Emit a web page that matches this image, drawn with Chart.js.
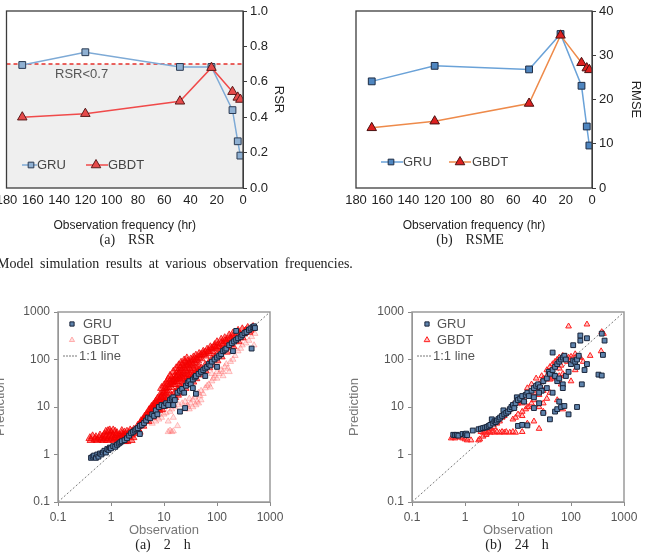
<!DOCTYPE html>
<html lang="en">
<head>
<meta charset="UTF-8" />
<title>Model simulation results at various observation frequencies</title>
<style>
    body {
        margin: 0;
        padding: 0;
        background: #fff;
        width: 651px;
        height: 556px;
        overflow: hidden;
        position: relative;
        font-family: "Liberation Sans", Arial, sans-serif;
    }
    .box { position: absolute; }
    .cap {
        position: absolute;
        font-family: "Liberation Serif", serif;
        font-size: 14px;
        color: #222;
        white-space: nowrap;
        transform: translateX(-50%);
        word-spacing: 3px;
    }
    .note {
        position: absolute;
        left: -3px;
        top: 256px;
        font-family: "Liberation Serif", serif;
        font-size: 14px;
        color: #222;
        word-spacing: 3px;
        white-space: nowrap;
    }
</style>
<script src="https://cdn.jsdelivr.net/npm/chart.js"></script>
</head>
<body>
<div class="box" style="left:0;top:0;width:290px;height:237px"><canvas id="rsr"></canvas></div>
<div class="box" style="left:340px;top:0;width:307px;height:237px"><canvas id="rmse"></canvas></div>
<div class="cap" style="left:127px;top:232px">(a)&nbsp; RSR</div>
<div class="cap" style="left:470px;top:232px">(b)&nbsp; RSME</div>
<div class="note">Model simulation results at various observation frequencies.</div>
<div class="box" style="left:-12px;top:290px;width:300px;height:250px"><canvas id="h2"></canvas></div>
<div class="box" style="left:342px;top:290px;width:300px;height:250px"><canvas id="h24"></canvas></div>
<div class="cap" style="left:163px;top:537px">(a)&nbsp; 2&nbsp; h</div>
<div class="cap" style="left:517px;top:537px">(b)&nbsp; 24&nbsp; h</div>
<script>
// observation frequency (hr) and metrics
const freq = [168, 120, 48, 24, 8, 4, 2];
const rsrGRU = [0.695, 0.767, 0.684, 0.684, 0.44, 0.264, 0.183];
const rsrGBDT = [0.40, 0.42, 0.49, 0.68, 0.544, 0.512, 0.50];
const rmseGRU = [24.1, 27.6, 26.8, 34.8, 23.1, 13.9, 9.6];
const rmseGBDT = [13.6, 15.1, 19.1, 34.5, 28.3, 27.1, 26.7];
const limitX = [180, 0];
const rsrLimit = 0.7;

// scatter: [observation, prediction]
const gru2h = [[0.42,0.85],[0.45,0.9],[0.48,0.95],[0.52,0.85],[0.55,1.0],[0.58,0.9],[0.62,1.05],[0.66,1.0],[0.7,1.1],[0.75,1.2],[0.8,1.1],[0.85,1.3],[0.9,1.25],[0.95,1.4],[1.0,1.35],[1.1,1.5],[1.2,1.45],[1.3,1.6],[1.4,1.7],[1.5,1.8],[1.6,1.9],[1.8,2.0],[2.0,2.2],[2.2,2.5],[2.4,2.8],[2.6,3.0],[2.8,3.2],[3.0,3.4],[3.2,3.6],[3.5,2.7],[3.5,4.0],[3.8,4.2],[4.2,4.6],[4.6,5.2],[5,6.0],[5.5,5.8],[6,7],[6.5,6.5],[7,8.5],[7.5,7],[8,10],[9,11],[10,10.5],[11,12],[12,11],[13,14],[14,15],[15,16],[16,14],[18,20],[20,22],[22,24],[24,20],[26,28],[28,32],[30,35],[32,30],[35,38],[38,42],[40,45],[45,50],[50,55],[55,60],[60,65],[65,70],[70,80],[75,75],[80,90],[90,100],[100,110],[110,120],[120,130],[130,150],[140,160],[150,170],[170,200],[190,220],[210,240],[230,260],[250,280],[280,300],[300,330],[330,360],[360,380],[400,420],[430,450],[470,480],[500,500],[520,460],[230,400],[450,170],[40,19],[20,8],[25,9.5],[35,25],[15,11],[60,45],[100,70],[200,150]];
const gbdt2hCore = [[0.4,2.2],[0.42,2.0],[0.45,2.4],[0.5,2.1],[0.52,2.3],[0.55,2.0],[0.6,2.2],[0.62,2.5],[0.66,2.1],[0.7,2.3],[0.72,2.0],[0.75,2.6],[0.78,2.2],[0.8,3.0],[0.82,2.4],[0.88,3.1],[0.95,3.2],[1.0,2.9],[1.1,3.2],[1.2,3.0],
    [0.85,2.0],[0.9,2.2],[0.95,2.4],[1.0,2.1],[1.05,2.3],[1.1,2.5],[1.15,2.0],[1.2,2.2],[1.25,2.6],[1.3,2.3],[1.4,2.1],[1.45,2.5],[1.5,2.3],[1.6,2.7],[1.65,2.2],[1.7,2.5],[1.8,2.9],[1.85,2.3],[1.9,2.6],[2.0,3.0],[2.1,2.4],[2.2,2.8],[2.3,3.2],[2.4,2.6],[2.5,3.0],[2.6,2.3],[2.7,3.3],[2.8,2.8],[3.0,3.1],[3.2,3.5],[3.4,3.0],[1.6,3.1],[1.3,2.8],[2.0,1.9],[2.4,2.0],[1.8,1.9],
    [3.5,4.2],[3.7,5.0],[3.9,4.6],[4.1,5.5],[4.3,6.2],[4.5,5.2],[4.7,7.0],[5.0,6.2],[5.2,8.5],[5.5,7.5],[5.8,10],[6.0,8.5],[6.3,11],[6.6,9.5],[7.0,13],[7.3,10.5],[7.6,15],[8.0,12],[8.5,18],[9.0,14],[9.5,20],[10,16],[10.5,25],[11,19],[11.5,30],[12,22],[13,35],[13.5,26],[14,40],[15,30],[16,45],[17,34],[18,55],[19,40],[20,65],[21,45],[22,75],[23,50],[25,85],[26,58],[28,90],[30,65],[32,100],[34,75],[36,110],[38,85],[40,120],[43,95],[46,130],[50,105],[55,145],[60,120],[65,160],[70,135],[75,180],[80,150],[90,200],[95,170],[100,230],[110,190],[120,260],[130,210],[140,280],[150,240],[170,320],[180,270],[200,350],[220,300],[250,400],[270,330],[300,430],[330,380],[380,460],[420,420],[480,480],
    [3.2,4.0],[3.6,4.5],[4.0,5.0],[4.4,5.8],[4.8,6.5],[5.3,7.0],[5.6,9.0],[6.2,9.8],[6.8,11.5],[7.2,12],[8.2,14],[8.8,16],[9.2,17],[10,20],[11,22],[12,26],[13,30],[14,33],[15,36],[16,38],[17,42],[18,46],[19,50],[20,55],[22,60],[24,65],[26,70],[28,75],[30,80],[33,85],[36,95],[40,100],[45,110],[50,125],[55,130],[60,140],[70,150],[80,170],[90,180],[100,190],[120,220],[140,240],[160,260],[200,300],
    [7,8],[8,9.5],[9,11],[10,13],[11,14],[12,15],[14,17],[16,20],[18,23],[20,26],[22,28],[25,32],[28,36],[30,40],[35,45],[40,52],[45,58],[50,65],[60,75],[70,85],[80,100],[90,110],[100,125],[120,150],[150,180],[180,210],[220,250],[270,290],[320,350],[350,400],[450,450],
    [9,25],[10,28],[11,32],[12,38],[13,45],[15,55],[17,65],[19,75],[21,85],[24,95],[27,105],[16,30],[18,35],[20,38],[22,40],[24,42],[26,45],[28,48],[30,50],[33,55],[36,60],[40,65],[45,70],
    [4,4],[5,5],[6,6.2],[7,7],[8,8.5],[9,9],[10,10.5],[12,12],[14,14],[16,16],[18,18],[20,20],[25,25],[30,30],[35,34],[40,40],[50,48],[60,58],[70,68],[80,78],[100,95],[120,115],[150,145],[200,190],[250,240],[300,290],[400,380]];
const gbdt2hFaint = [[6,4.5],[7,5],[8,5.5],[9,6],[10,7],[11,7.5],[12,5],[13,8],[14,9],[15,6],[16,10],[12,3],[19,11],[13,3.2],[14,3],[15,3.1],[22,12],[18,4],[25,13],[27,10],[30,15],[32,12],[35,14],[38,16],[40,18],[42,13],[45,20],[48,17],[50,22],[55,19],[60,25],[65,28],[70,30],[75,26],[80,35],[85,40],[90,45],[100,40],[110,50],[120,60],[130,55],[140,70],[150,80],[160,65],[180,90],[200,100],[220,120],[250,150],[280,170],[300,200],[350,220],[400,250],[450,300],[500,200],[520,350],[30,9],[35,10],[40,11],[45,12],[50,14],[25,9],[28,11],[80,50],[100,55],[130,45],[170,55]];
const gru24h = [[0.6,2.6],[0.65,2.55],[0.7,2.6],[0.75,2.5],[0.9,2.7],[1.0,2.6],[1.05,2.75],[1.1,2.55],[1.4,3.2],[1.8,3.4],[2.0,3.5],[2.2,3.6],[2.4,3.7],[2.6,3.8],[2.8,4.0],[3.0,4.2],[3.2,5.5],[3.4,4.5],[3.6,5.0],[3.8,4.8],[4.0,5.2],[4.3,5.6],[4.6,6.0],[5.0,6.5],[5.3,8.5],[5.5,7.0],[6,7.5],[6.5,8],[7,9],[7.5,10],[8,11],[8.5,9.5],[9,12],[9.5,16],[10,14],[11,15],[12,17],[13,13],[14,18],[15,20],[16,17],[18,22],[20,25],[22,28],[24,30],[26,26],[28,22],[30,35],[20,16],[25,20],[35,40],[38,55],[40,50],[45,60],[50,70],[55,80],[60,90],[65,100],[70,110],[75,120],[80,100],[50,45],[55,35],[60,40],[70,30],[80,45],[90,55],[100,80],[110,95],[45,140],[120,90],[130,100],[140,120],[150,250],[150,320],[200,280],[110,200],[130,70],[160,30],[200,80],[180,60],[330,48],[380,46],[400,125],[430,250],[380,350],
    [10,4],[12,4.2],[15,4.1],[20,9.5],[25,12],[30,7.5],[40,5.5],[50,8],[55,9],[60,13],[65,10],[75,10.5],[90,7],[130,10],[45,20],[35,25],[70,25]];
const gbdt24h = [[0.55,2.2],[0.6,2.3],[0.65,2.2],[0.7,2.4],[0.8,2.3],[0.9,2.2],[1.0,2.1],[1.1,2.0],[1.3,2.0],[1.8,2.0],[1.9,2.1],
    [2.0,3.0],[2.2,2.9],[2.4,3.1],[2.6,2.8],[2.8,3.0],[3.0,2.9],[3.3,3.1],[3.6,2.9],[4.0,3.0],[4.5,2.9],[5,3.0],[5.5,2.9],[6,3.0],[7,2.9],[8,3.0],[9,2.9],[2.2,2.4],[2.5,2.6],[3,3.5],[3.5,3.8],
    [4,4.5],[4.5,5],[5,6],[5.5,6.5],[6,7.5],[6.5,8],[7,9],[7.5,10],[8,11],[9,12],[10,12],[11,13],[12,12],[13,14],[10,7],[12,6.5],[15,10],[18,12],[20,14],[20,20],[22,25],[25,30],[28,35],[30,40],[35,45],[40,38],[45,40],[50,42],[60,45],[70,50],[8,5.5],[9,6],[12,8],[14,9],[16,10],[25,10],[30,12],[35,15],[25,18],[30,22],
    [15,25],[18,30],[22,40],[28,45],[35,60],[40,70],[45,80],[50,90],[55,100],[60,110],[70,120],[80,115],[90,110],[100,115],[120,110],[140,110],[60,65],[65,75],[75,100],[85,90],
    [90,500],[200,550],[380,380],[410,350],[370,150],[120,60],[75,45],[65,30],[55,14],[100,35],[150,110],[230,120],[120,130],[100,100],[40,20],[30,8],[20,5],[15,4.5],[12,3],[25,3.5],[170,90],[70,9]];
const oneToOne = [[0.1, 0.1], [1000, 1000]];
const logTicks = [0.1, 1, 10, 100, 1000];

function toXY(xs, ys) {
    return xs.map((x, i) => ({ x: x, y: ys[i] }));
}
function pairs(list) {
    return list.map((p) => ({ x: p[0], y: p[1] }));
}

function marker(ctx, style, x, y, r, fill, stroke) {
    ctx.beginPath();
    if (style === "rect") {
        const s = r / Math.SQRT2;
        ctx.rect(x - s, y - s, 2 * s, 2 * s);
    } else {
        ctx.moveTo(x, y - r);
        ctx.lineTo(x + r * 0.866, y + r * 0.5);
        ctx.lineTo(x - r * 0.866, y + r * 0.5);
        ctx.closePath();
    }
    ctx.fillStyle = fill;
    ctx.fill();
    ctx.strokeStyle = stroke;
    ctx.lineWidth = 1;
    ctx.stroke();
}

// frame round the plot, legend entries and notes
const deco = {
    id: "deco",
    afterDraw(chart, args, opts) {
        const ctx = chart.ctx;
        const a = chart.chartArea;
        ctx.save();
        ctx.strokeStyle = opts.frame;
        ctx.lineWidth = opts.frameWidth;
        ctx.strokeRect(a.left, a.top, a.right - a.left, a.bottom - a.top);
        ctx.textBaseline = "middle";
        ctx.font = opts.font;
        (opts.items || []).forEach((it) => {
            if (it.line) {
                ctx.beginPath();
                ctx.setLineDash(it.line.dash || []);
                ctx.strokeStyle = it.line.color;
                ctx.lineWidth = it.line.width || 1.5;
                ctx.moveTo(it.line.x1, it.y);
                ctx.lineTo(it.line.x2, it.y);
                ctx.stroke();
                ctx.setLineDash([]);
            }
            if (it.mark) {
                marker(ctx, it.mark.style, it.mark.x, it.y, it.mark.r, it.mark.fill, it.mark.stroke);
            }
            ctx.fillStyle = it.color || opts.color;
            ctx.fillText(it.text, it.x, it.y);
        });
        ctx.restore();
    },
};

function noPad(s) {
    s.paddingLeft = 0;
    s.paddingRight = 0;
}

function topOptions(yMax, yStep, yTitle, yWidth, dec, items) {
    return {
        responsive: true,
        maintainAspectRatio: false,
        animation: false,
        layout: { padding: { left: yTitle === "RSR" ? 4 : 16, top: 11, right: 0, bottom: 0 } },
        plugins: {
            legend: { display: false },
            tooltip: { enabled: false },
            deco: { frame: "#3c3c3c", frameWidth: 1.3, font: "13px 'Liberation Sans', Arial", color: "#444", items: items },
        },
        scales: {
            x: {
                type: "linear",
                reverse: true,
                min: 0,
                max: 180,
                ticks: { stepSize: 20, color: "#222", font: { size: 13 }, padding: 5, maxRotation: 0 },
                grid: { display: false, drawTicks: false },
                border: { display: false },
                title: { display: true, text: "Observation frequency (hr)", color: "#222", font: { size: 12 }, padding: { top: 2, bottom: 4 } },
                afterFit: (s) => { s.height = 49; noPad(s); },
            },
            y: {
                position: "right",
                min: 0,
                max: yMax,
                ticks: { stepSize: yStep, color: "#222", font: { size: 13 }, padding: 3, callback: (v) => v.toFixed(dec) },
                grid: { drawOnChartArea: false, tickLength: 4, color: "#3c3c3c" },
                border: { color: "#3c3c3c" },
                title: { display: true, text: yTitle, color: "#222", font: { size: 13 }, padding: { top: 4, bottom: 4 } },
                afterFit: (s) => { s.width = yWidth; },
            },
        },
    };
}

new Chart(document.getElementById("rsr"), {
    type: "scatter",
    data: {
        datasets: [
            { data: toXY(freq, rsrGBDT), showLine: true, borderColor: "#f04a4a", borderWidth: 1.5, pointStyle: "triangle", pointRadius: 5.5, pointBackgroundColor: "#e64a4a", pointBorderColor: "#5a1a1a", pointBorderWidth: 1, order: 1 },
            { data: toXY(freq, rsrGRU), showLine: true, borderColor: "#7eaad6", borderWidth: 1.5, pointStyle: "rect", pointRadius: 4.8, pointBackgroundColor: "#8fb0d2", pointBorderColor: "#2a3a52", pointBorderWidth: 1, order: 2 },
            { data: toXY(limitX, [rsrLimit, rsrLimit]), showLine: true, borderColor: "#e5312b", borderDash: [4, 3], borderWidth: 1.5, pointRadius: 0, fill: "origin", backgroundColor: "#efefef", order: 3 },
        ],
    },
    options: topOptions(1, 0.2, "RSR", 47, 1, [
        { text: "RSR<0.7", x: 55, y: 74, color: "#555" },
        { text: "GRU", x: 37, y: 165, line: { x1: 22, x2: 37, color: "#7eaad6" }, mark: { style: "rect", x: 31, r: 4, fill: "#8fb0d2", stroke: "#2a3a52" } },
        { text: "GBDT", x: 108, y: 165, line: { x1: 86, x2: 108, color: "#f04a4a" }, mark: { style: "tri", x: 96, r: 5.5, fill: "#e64a4a", stroke: "#5a1a1a" } },
    ]),
    plugins: [deco],
});

new Chart(document.getElementById("rmse"), {
    type: "scatter",
    data: {
        datasets: [
            { data: toXY(freq, rmseGBDT), showLine: true, borderColor: "#ee8a4a", borderWidth: 1.5, pointStyle: "triangle", pointRadius: 5.5, pointBackgroundColor: "#dd2020", pointBorderColor: "#4a1010", pointBorderWidth: 1, order: 1 },
            { data: toXY(freq, rmseGRU), showLine: true, borderColor: "#6aa2d8", borderWidth: 1.5, pointStyle: "rect", pointRadius: 4.8, pointBackgroundColor: "#4f86c0", pointBorderColor: "#1e2c44", pointBorderWidth: 1, order: 2 },
        ],
    },
    options: topOptions(40, 10, "RMSE", 55, 0, [
        { text: "GRU", x: 63, y: 162, line: { x1: 41, x2: 63, color: "#6aa2d8" }, mark: { style: "rect", x: 51, r: 4, fill: "#4f86c0", stroke: "#1e2c44" } },
        { text: "GBDT", x: 132, y: 162, line: { x1: 109, x2: 131, color: "#ee8a4a" }, mark: { style: "tri", x: 120, r: 5.5, fill: "#dd2020", stroke: "#4a1010" } },
    ]),
    plugins: [deco],
});

function logAxis(title, pos) {
    return {
        type: "logarithmic",
        position: pos,
        min: 0.1,
        max: 1000,
        afterBuildTicks: (s) => { s.ticks = logTicks.map((v) => ({ value: v })); },
        ticks: { color: "#555", font: { size: 12 }, padding: 4, callback: (v) => String(v), autoSkip: false, maxRotation: 0 },
        grid: { drawOnChartArea: false, tickLength: 4, color: "#8a8a8a" },
        border: { color: "#8a8a8a" },
        title: { display: true, text: title, color: "#777", font: { size: 13 }, padding: { top: 5, bottom: 2 } },
        afterFit: pos === "left" ? (s) => { s.width = 70; } : (s) => { s.height = 38; noPad(s); },
    };
}

function scatterOptions(items) {
    return {
        responsive: true,
        maintainAspectRatio: false,
        animation: false,
        layout: { padding: { left: 0, top: 22, right: 18, bottom: 0 } },
        plugins: {
            legend: { display: false },
            tooltip: { enabled: false },
            deco: { frame: "#9a9a9a", frameWidth: 1.5, font: "13px 'Liberation Sans', Arial", color: "#555", items: items },
        },
        scales: { x: logAxis("Observation", "bottom"), y: logAxis("Prediction", "left") },
    };
}

function lineSet() {
    return { data: pairs(oneToOne), showLine: true, borderColor: "#555", borderWidth: 0.8, borderDash: [2, 2], pointRadius: 0, order: 5 };
}

new Chart(document.getElementById("h2"), {
    type: "scatter",
    data: {
        datasets: [
            lineSet(),
            { data: pairs(gbdt2hFaint), pointStyle: "triangle", pointRadius: 3.5, pointBackgroundColor: "rgba(255,120,120,0.2)", pointBorderColor: "rgba(255,90,90,0.45)", pointBorderWidth: 0.8, order: 4 },
            { data: pairs(gbdt2hCore), pointStyle: "triangle", pointRadius: 4.6, pointBackgroundColor: "rgba(255,0,0,0.5)", pointBorderColor: "rgba(240,0,0,0.75)", pointBorderWidth: 1, order: 3 },
            { data: pairs(gru2h), pointStyle: "rect", pointRadius: 3.4, pointBackgroundColor: "#5f84ad", pointBorderColor: "#18243a", pointBorderWidth: 1, order: 1 },
        ],
    },
    options: scatterOptions([
        { text: "GRU", x: 95, y: 34, mark: { style: "rect", x: 84, r: 3, fill: "#5f84ad", stroke: "#18243a" } },
        { text: "GBDT", x: 95, y: 50, mark: { style: "tri", x: 84, r: 3, fill: "rgba(255,150,150,0.3)", stroke: "rgba(255,110,110,0.5)" } },
        { text: "1:1 line", x: 91, y: 66, line: { x1: 75, x2: 89, color: "#555", width: 0.8, dash: [2, 1] } },
    ]),
    plugins: [deco],
});

new Chart(document.getElementById("h24"), {
    type: "scatter",
    data: {
        datasets: [
            lineSet(),
            { data: pairs(gbdt24h), pointStyle: "triangle", pointRadius: 3.3, pointBackgroundColor: "rgba(255,60,60,0.3)", pointBorderColor: "#ff1f1f", pointBorderWidth: 1, order: 3 },
            { data: pairs(gru24h), pointStyle: "rect", pointRadius: 3.4, pointBackgroundColor: "#5f84ad", pointBorderColor: "#18243a", pointBorderWidth: 1, order: 1 },
        ],
    },
    options: scatterOptions([
        { text: "GRU", x: 95, y: 34, mark: { style: "rect", x: 85, r: 3, fill: "#5f84ad", stroke: "#18243a" } },
        { text: "GBDT", x: 95, y: 50, mark: { style: "tri", x: 85, r: 3.3, fill: "rgba(255,60,60,0.3)", stroke: "#ff1f1f" } },
        { text: "1:1 line", x: 91, y: 66, line: { x1: 75, x2: 89, color: "#555", width: 0.8, dash: [2, 1] } },
    ]),
    plugins: [deco],
});
</script>
</body>
</html>
